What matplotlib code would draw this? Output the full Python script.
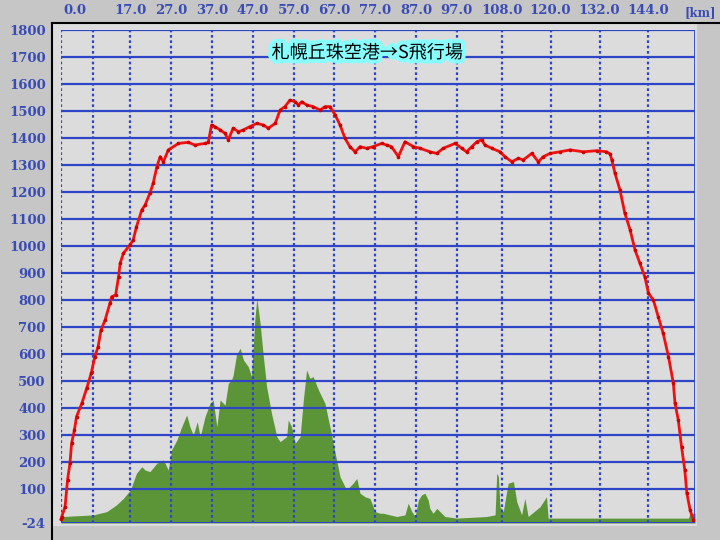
import matplotlib
matplotlib.use("Agg")
import matplotlib.pyplot as plt
import matplotlib.patheffects as pe
from matplotlib.patches import Rectangle
from matplotlib.lines import Line2D

# elevation profile (red), km / m
red_km = [0, 0.2, 1.0, 1.6, 2.2, 2.6, 3.3, 3.8, 5.1, 6.3, 7.4, 8.3, 9.1, 9.8, 10.8,
          12.0, 12.4, 13.4, 14.1, 14.5, 15.3, 16.9, 17.7, 18.5, 19.8, 20.6, 21.8, 22.6,
          23.5, 24.3, 25.1, 26.3, 28.8, 31.2, 32.8, 35.3, 36.1, 36.9, 37.7, 39.0, 40.2,
          41.0, 42.2, 43.5, 44.7, 46.3, 48.0, 49.6, 50.8, 52.5, 53.7, 54.9, 56.1, 57.4,
          58.2, 59.0, 60.2, 61.8, 63.5, 64.7, 65.9, 67.2, 68.4, 69.6, 70.8, 72.1, 73.3,
          74.9, 76.5, 78.6, 79.8, 81.0, 82.7, 84.3, 86.4, 88.0, 90.4, 92.1, 93.7, 96.6,
          98.2, 99.4, 100.7, 101.9, 103.1, 103.9, 105.6, 107.6, 108.8, 110.5, 112.1,
          113.3, 115.4, 117.0, 118.2, 119.9, 122.3, 124.8, 128.0, 131.3, 133.7, 134.6,
          135.0, 135.8, 137.0, 138.2, 139.5, 140.7, 141.9, 143.1, 144.0, 145.2, 146.4,
          147.6, 148.9, 150.1, 150.5, 151.3, 152.1, 152.9, 153.4, 154.2, 155.0]
red_m = [-10, 0, 36, 135, 197, 271, 320, 369, 418, 474, 529, 591, 628, 689, 726,
         788, 812, 819, 886, 936, 973, 1004, 1022, 1071, 1133, 1151, 1195, 1232,
         1293, 1330, 1311, 1355, 1379, 1383, 1373, 1379, 1383, 1447, 1441, 1429, 1416,
         1392, 1435, 1422, 1429, 1441, 1453, 1447, 1435, 1453, 1502, 1515, 1539, 1533,
         1521, 1533, 1521, 1515, 1502, 1515, 1515, 1484, 1447, 1398, 1367, 1348, 1367,
         1361, 1367, 1379, 1373, 1367, 1330, 1385, 1367, 1361, 1348, 1342, 1361, 1379,
         1361, 1348, 1367, 1385, 1392, 1373, 1361, 1348, 1330, 1311, 1324,
         1318, 1342, 1311, 1330, 1342, 1348, 1355, 1348, 1352, 1348, 1340,
         1318, 1268, 1207, 1121, 1059, 985, 936, 886, 825, 800, 738,
         677, 591, 492, 418, 357, 258, 172, 86, 24, -13]

# green profile
grn_km = [0, 0.6, 7.9, 11.2, 13.6, 15.3, 17.0, 18.5, 19.8, 20.6, 21.8, 23.5, 25.1, 26.3,
          27.1, 28.4, 29.6, 30.8, 31.6, 32.4, 33.4, 34.1, 35.3, 36.5, 37.3, 38.2, 39.0,
          40.2, 41.0, 41.8, 42.2, 43.0, 43.9, 44.7, 45.9, 46.7, 47.5, 48.0, 48.8, 49.6,
          50.4, 51.6, 52.9, 53.7, 55.3, 55.7, 56.5, 57.4, 58.6, 59.4, 60.2, 61.0, 61.8,
          63.1, 64.7, 65.9, 67.2, 68.4, 70.0, 71.6, 72.5, 73.3, 74.5, 75.7, 77.0, 78.2,
          79.0, 82.3, 84.3, 85.1, 86.0, 86.8, 87.6, 88.4, 89.2, 90.0, 90.4, 91.2, 92.1,
          92.9, 94.1, 97.0, 104.3, 106.4, 106.8, 107.2, 107.6, 108.4, 109.6, 110.9, 111.7,
          112.9, 113.7, 114.5, 117.4, 119.0, 119.4, 120.7, 153.8, 154.2, 155.4]
grn_m = [-2, 0, 6, 18, 43, 67, 98, 160, 184, 172, 166, 197, 209, 172,
         246, 283, 332, 375, 332, 301, 350, 295, 369, 418, 431, 332, 431,
         412, 492, 505, 523, 597, 622, 579, 554, 517, 726, 806, 714, 591,
         480, 381, 295, 277, 295, 357, 332, 271, 295, 431, 542, 511, 517,
         468, 418, 332, 234, 147, 98, 123, 141, 86, 73, 67, 18, 12,
         12, 0, 6, 49, 18, 0, 61, 80, 86, 61, 30, 12, 30,
         18, 0, -6, 0, 6, 160, 148, 36, 18, 123, 129, 55,
         6, 67, 0, 36, 73, -6, -6, -6, 12, 12]

vgrid = [0, 7.8, 17, 27, 37, 47, 57, 67, 77, 87, 97, 108, 120, 132, 144]
xlab_pos = [3.5, 17, 27, 37, 47, 57, 67, 77, 87, 97, 108, 120, 132, 144]
xlab = ["0.0", "17.0", "27.0", "37.0", "47.0", "57.0", "67.0", "77.0", "87.0",
        "97.0", "108.0", "120.0", "132.0", "144.0"]
ylab_pos = [-24, 100, 200, 300, 400, 500, 600, 700, 800, 900, 1000, 1100, 1200,
            1300, 1400, 1500, 1600, 1700, 1800]
title = "札幌丘珠空港→S飛行場"

W, H = 720, 540
blue = "#2f45c8"
txtblue = "#3a4cb4"

fig = plt.figure(figsize=(7.2, 5.4), dpi=100)
fig.patch.set_facecolor("#c6c6c6")

# inner frame
fig.patches.append(Rectangle((52 / W, 1 - 526 / H), (697 - 52) / W, (526 - 23) / H,
                             transform=fig.transFigure, facecolor="#dcdcdc",
                             edgecolor="none", zorder=-10))
fig.lines.append(Line2D([52 / W, 1], [1 - 23 / H, 1 - 23 / H], transform=fig.transFigure,
                        color="black", lw=1.5, zorder=-5))
fig.lines.append(Line2D([52 / W, 52 / W], [0, 1 - 23 / H], transform=fig.transFigure,
                        color="black", lw=1.5, zorder=-5))

ax = fig.add_axes([61 / W, 1 - 523 / H, (695 - 61) / W, (523 - 29.5) / H])
ax.set_facecolor("#dcdcdc")
ax.set_xlim(0, 155.4)
ax.set_ylim(-24, 1800)
for s in ax.spines.values():
    s.set_visible(False)

ax.fill_between(grn_km, -24, grn_m, color="#5b9537", lw=0, zorder=1)

for y in ylab_pos:
    ax.axhline(y, color=blue, lw=2.2 if y == -24 else 1.6, zorder=2)
for x in vgrid:
    ax.axvline(x, color=blue, lw=1.6, ls=(0, (1.2, 1.2)), zorder=2)
ax.axvline(155.4, color=blue, lw=2, zorder=2)

ax.plot(red_km, red_m, color="#f01010", lw=2, marker="o", ms=1.6,
        mfc="#d00000", mec="#d00000", zorder=4, clip_on=False)

ax.xaxis.tick_top()
ax.set_xticks(xlab_pos)
ax.set_xticklabels(xlab)
ax.set_yticks(ylab_pos)
ax.set_yticklabels([str(v) for v in ylab_pos])
ax.tick_params(axis="x", length=0, pad=9)
ax.tick_params(axis="y", length=0, pad=11)
for lab in ax.get_xticklabels() + ax.get_yticklabels():
    lab.set_fontfamily("DejaVu Serif")
    lab.set_fontweight("bold")
    lab.set_fontsize(9.5)
    lab.set_color(txtblue)

fig.text(685 / W, 1 - 13 / H, "[km]", fontfamily="DejaVu Serif", fontweight="bold",
         fontsize=8.5, color=txtblue, va="center", ha="left")

ax.text(75, 1713, title, fontfamily=["Noto Sans CJK JP", "DejaVu Sans"], fontsize=13,
        color="black", ha="center", va="center", zorder=5,
        path_effects=[pe.withStroke(linewidth=6, foreground="#88ffff")])

fig.savefig("out.png", dpi=100, facecolor=fig.get_facecolor())
